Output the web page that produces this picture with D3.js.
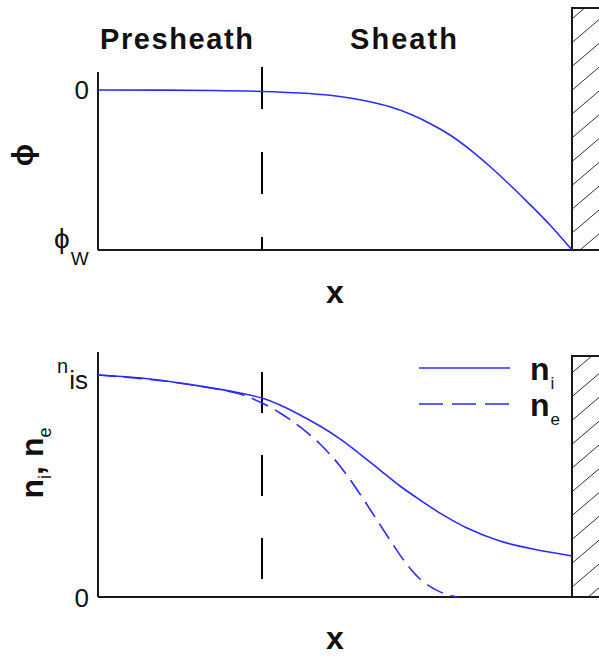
<!DOCTYPE html>
<html>
<head>
<meta charset="utf-8">
<script src="https://cdn.jsdelivr.net/npm/d3@7"></script>
<style>
  html, body { margin: 0; padding: 0; background: #fff; }
  svg { display: block; }
  text { font-family: "Liberation Sans", Arial, "DejaVu Sans", sans-serif; fill: #111; }
</style>
</head>
<body>
<svg id="chart" width="599" height="656"></svg>
<script>
// ---------------- data ----------------
// x position (0 = plasma side, 100 = wall), boundary between presheath and sheath
const presheathEdge = 34.6;
const wallX = 100;

// potential (0 at plasma, -1 = phi_w at wall)
const phiX = [0, 24.26, 34.6, 42.62, 48.95, 53.16, 57.38, 61.6, 65.82, 70.04, 74.26, 78.48, 82.7, 86.92, 91.14, 95.36, 100];
const phiV = [0, -0.003, -0.009, -0.019, -0.033, -0.050, -0.074, -0.105, -0.150, -0.209, -0.281, -0.372, -0.478, -0.594, -0.716, -0.844, -1.0];

// ion density (1 = n_is)
const niX = [0, 10.97, 21.52, 29.96, 34.6, 38.4, 42.62, 46.84, 51.05, 55.27, 59.49, 63.71, 67.93, 72.15, 77.85, 84.81, 91.77, 100];
const niV = [1.0, 0.982, 0.950, 0.919, 0.896, 0.865, 0.820, 0.770, 0.712, 0.644, 0.572, 0.500, 0.437, 0.378, 0.311, 0.252, 0.216, 0.185];

// electron density
const neX = [0, 10.97, 21.52, 29.96, 34.6, 38.4, 42.62, 46.84, 51.05, 55.27, 58.44, 61.6, 64.77, 67.93, 72.15, 75.74];
const neV = [1.0, 0.980, 0.950, 0.914, 0.874, 0.829, 0.766, 0.689, 0.590, 0.464, 0.360, 0.257, 0.158, 0.081, 0.023, 0.0];

const regionLabels = ["Presheath", "Sheath"];
const legendLabels = [{ main: "n", sub: "i" }, { main: "n", sub: "e" }];

// ---------------- drawing ----------------
const svg = d3.select("#chart");
svg.append("rect").attr("width", 599).attr("height", 656).attr("fill", "#fff");

const blue = "#2b2bff";
const axisColor = "#1a1a1a";

const x = d3.scaleLinear().domain([0, 100]).range([98, 572]);
const yTop = d3.scaleLinear().domain([-1, 0]).range([250, 90]);
const yBot = d3.scaleLinear().domain([0, 1]).range([597, 375]);

const defs = svg.append("defs");

function drawWall(id, top, bottom, phase) {
  const left = x(wallX);
  defs.append("clipPath").attr("id", id)
    .append("rect").attr("x", left).attr("y", top).attr("width", 60).attr("height", bottom - top);
  const g = svg.append("g");
  g.append("rect").attr("x", left).attr("y", top).attr("width", 60).attr("height", bottom - top)
    .attr("fill", "#fff");
  const hg = g.append("g").attr("clip-path", `url(#${id})`);
  const step = 23.8;
  const slope = 0.85;
  for (let y0 = phase + step * 6; y0 > top - 10; y0 -= step) {
    hg.append("line")
      .attr("x1", left).attr("y1", y0)
      .attr("x2", left + 60).attr("y2", y0 - 60 * slope)
      .attr("stroke", "#333").attr("stroke-width", 1);
  }
  g.append("rect").attr("x", left).attr("y", top).attr("width", 60).attr("height", bottom - top)
    .attr("fill", "none").attr("stroke", axisColor).attr("stroke-width", 2);
}

drawWall("wallTop", 8, 250, 233);
drawWall("wallBot", 356, 597, 587);

// ---- top panel ----
svg.append("line").attr("x1", x(0)).attr("x2", x(0)).attr("y1", yTop(0.1125)).attr("y2", yTop(-1))
  .attr("stroke", axisColor).attr("stroke-width", 2);
svg.append("line").attr("x1", x(0)).attr("x2", x(wallX)).attr("y1", yTop(-1)).attr("y2", yTop(-1))
  .attr("stroke", axisColor).attr("stroke-width", 2);

svg.append("line").attr("x1", x(presheathEdge)).attr("x2", x(presheathEdge))
  .attr("y1", 67).attr("y2", yTop(-1))
  .attr("stroke", "#000").attr("stroke-width", 2).attr("stroke-dasharray", "42,43");

const phiData = phiX.map((d, i) => [d, phiV[i]]);
svg.append("path").datum(phiData)
  .attr("d", d3.line().x(d => x(d[0])).y(d => yTop(d[1])).curve(d3.curveCatmullRom.alpha(0.5)))
  .attr("fill", "none").attr("stroke", blue).attr("stroke-width", 1.6);

svg.append("text").attr("x", 100).attr("y", 49).attr("font-size", 29).attr("font-weight", "bold")
  .attr("textLength", 153).attr("lengthAdjust", "spacing").text(regionLabels[0]);
svg.append("text").attr("x", 350).attr("y", 49).attr("font-size", 29).attr("font-weight", "bold")
  .attr("textLength", 107).attr("lengthAdjust", "spacing").text(regionLabels[1]);

svg.append("text").attr("x", 89).attr("y", yTop(0) + 9).attr("text-anchor", "end")
  .attr("font-size", 26).text("0");
const phw = svg.append("text").attr("x", 54).attr("y", yTop(-1) - 2).attr("font-size", 28);
phw.append("tspan").text("\u03D5");
phw.append("tspan").attr("font-size", 19).attr("dy", 17).attr("dx", 1).text("W");

svg.append("text").attr("transform", "translate(33,155) rotate(-90)")
  .attr("text-anchor", "middle").attr("font-size", 30).attr("font-weight", "bold").text("\u03D5");
svg.append("text").attr("x", 335).attr("y", 303).attr("text-anchor", "middle")
  .attr("font-size", 32).attr("font-weight", "bold").text("x");

// ---- bottom panel ----
svg.append("line").attr("x1", x(0)).attr("x2", x(0)).attr("y1", yBot(1.104)).attr("y2", yBot(0))
  .attr("stroke", axisColor).attr("stroke-width", 2);
svg.append("line").attr("x1", x(0)).attr("x2", x(wallX)).attr("y1", yBot(0)).attr("y2", yBot(0))
  .attr("stroke", axisColor).attr("stroke-width", 2);

svg.append("line").attr("x1", x(presheathEdge)).attr("x2", x(presheathEdge))
  .attr("y1", 372).attr("y2", yBot(0))
  .attr("stroke", "#000").attr("stroke-width", 2).attr("stroke-dasharray", "41,42");

const lineN = d3.line().x(d => x(d[0])).y(d => yBot(d[1])).curve(d3.curveCatmullRom.alpha(0.5));
svg.append("path").datum(niX.map((d, i) => [d, niV[i]]))
  .attr("d", lineN).attr("fill", "none").attr("stroke", blue).attr("stroke-width", 1.6);
svg.append("path").datum(neX.map((d, i) => [d, neV[i]]))
  .attr("d", lineN).attr("fill", "none").attr("stroke", blue).attr("stroke-width", 1.6)
  .attr("stroke-dasharray", "18,8");

const nis = svg.append("text").attr("x", 57).attr("y", yBot(1) - 2);
nis.append("tspan").attr("font-size", 20).text("n");
nis.append("tspan").attr("font-size", 26).attr("dy", 16).attr("dx", 1).text("is");
svg.append("text").attr("x", 89).attr("y", yBot(0) + 10).attr("text-anchor", "end")
  .attr("font-size", 26).text("0");

const yl = svg.append("text").attr("transform", "translate(43,463) rotate(-90)")
  .attr("text-anchor", "middle").attr("font-size", 32).attr("font-weight", "bold");
yl.append("tspan").text("n");
yl.append("tspan").attr("font-size", 18).attr("font-weight", "normal").attr("dy", 8).text("i");
yl.append("tspan").attr("dy", -8).text(", n");
yl.append("tspan").attr("font-size", 18).attr("font-weight", "normal").attr("dy", 8).text("e");

svg.append("text").attr("x", 335).attr("y", 649).attr("text-anchor", "middle")
  .attr("font-size", 32).attr("font-weight", "bold").text("x");

// legend
const legY = [368, 404];
const legDash = [null, "24,9"];
legendLabels.forEach((lab, i) => {
  svg.append("line").attr("x1", 419).attr("x2", 510).attr("y1", legY[i]).attr("y2", legY[i])
    .attr("stroke", blue).attr("stroke-width", 1.6)
    .attr("stroke-dasharray", legDash[i]);
  const t = svg.append("text").attr("x", 530).attr("y", legY[i] + 12);
  t.append("tspan").attr("font-size", 32).attr("font-weight", "bold").text(lab.main);
  t.append("tspan").attr("font-size", 17).attr("dy", 9).attr("dx", 1).text(lab.sub);
});
</script>
</body>
</html>
